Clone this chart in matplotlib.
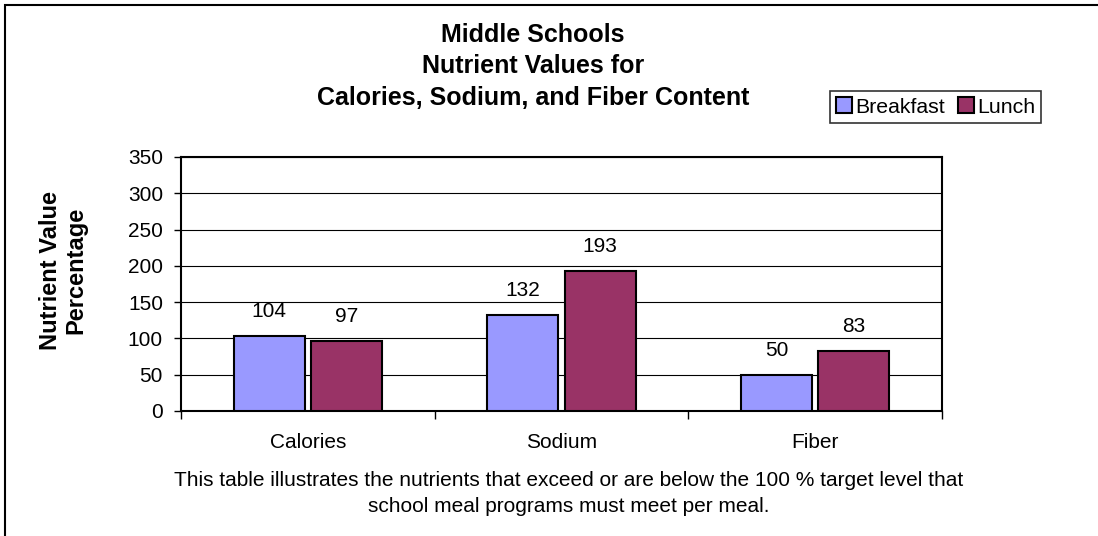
import numpy as np
import matplotlib
matplotlib.use("Agg")
import matplotlib.pyplot as plt
from matplotlib.patches import Rectangle

plt.rcParams['font.family'] = ['Liberation Sans', 'DejaVu Sans']

# 数据
categories = ['Calories', 'Sodium', 'Fiber']
breakfast = [104, 132, 50]
lunch = [97, 193, 83]
series_names = ['Breakfast', 'Lunch']
colors = ['#9999FF', '#993366']

W, H = 1098, 536
fig = plt.figure(figsize=(W / 100, H / 100), dpi=100)

# 外框（只在上、左可见）
fig.patches.append(Rectangle((5 / W, -0.1), 1.2, 1 - 5 / H + 0.1, transform=fig.transFigure,
                             fill=False, edgecolor='black', linewidth=1.5))

ax = fig.add_axes([181 / W, 1 - 411 / H, (942 - 181) / W, (411 - 157) / H])

x = np.arange(len(categories))
width = 0.28
off = 0.152
b1 = ax.bar(x - off, breakfast, width, color=colors[0], edgecolor='black', linewidth=1.5,
            label=series_names[0], zorder=3)
b2 = ax.bar(x + off, lunch, width, color=colors[1], edgecolor='black', linewidth=1.5,
            label=series_names[1], zorder=3)

for bars, vals in [(b1, breakfast), (b2, lunch)]:
    for rect, v in zip(bars, vals):
        ax.text(rect.get_x() + rect.get_width() / 2, v + 26, str(v),
                ha='center', va='baseline', fontsize=15)

ax.set_xlim(-0.5, 2.5)
ax.set_ylim(0, 350)
ax.set_yticks(range(0, 351, 50))
ax.yaxis.grid(True, color='black', linewidth=0.8, zorder=0)
ax.set_xticks([-0.5, 0.5, 1.5, 2.5])
ax.set_xticklabels([])
ax.set_xticks(x, minor=True)
ax.set_xticklabels(categories, minor=True, fontsize=15)
ax.tick_params(axis='x', which='minor', length=0, pad=16)
ax.tick_params(axis='x', which='major', length=6, width=1, direction='out')
ax.tick_params(axis='y', length=5, width=1, direction='out', labelsize=15, pad=8)
for s in ax.spines.values():
    s.set_linewidth(1.5)

# y轴标题
fig.text(63 / W, 1 - 270 / H, 'Nutrient Value\nPercentage', rotation=90, ha='center', va='center',
         fontsize=17, fontweight='bold', linespacing=1.12, multialignment='center')

# 标题
title_lines = ['Middle Schools', 'Nutrient Values for', 'Calories, Sodium, and Fiber Content']
for ty, t in zip([35, 66, 98], title_lines):
    fig.text(533 / W, 1 - ty / H, t, ha='center', va='center', fontsize=18, fontweight='bold')

# 说明文字
fig.text(569 / W, 1 - 481 / H, 'This table illustrates the nutrients that exceed or are below the 100 % target level that',
         ha='center', va='center', fontsize=15)
fig.text(569 / W, 1 - 507 / H, 'school meal programs must meet per meal.', ha='center', va='center', fontsize=15)

leg = fig.legend(loc='center', bbox_to_anchor=(935.5 / W, 1 - 107 / H), ncol=2, fontsize=15.3,
                 frameon=True, fancybox=False, edgecolor='black', handlelength=0.75,
                 handleheight=0.75, handletextpad=0.15, columnspacing=0.6, borderpad=0.3,
                 borderaxespad=0)
leg.get_frame().set_linewidth(1.2)
for p in leg.get_patches():
    p.set_edgecolor('black')
    p.set_linewidth(1.5)

fig.savefig('out.png', dpi=100)
